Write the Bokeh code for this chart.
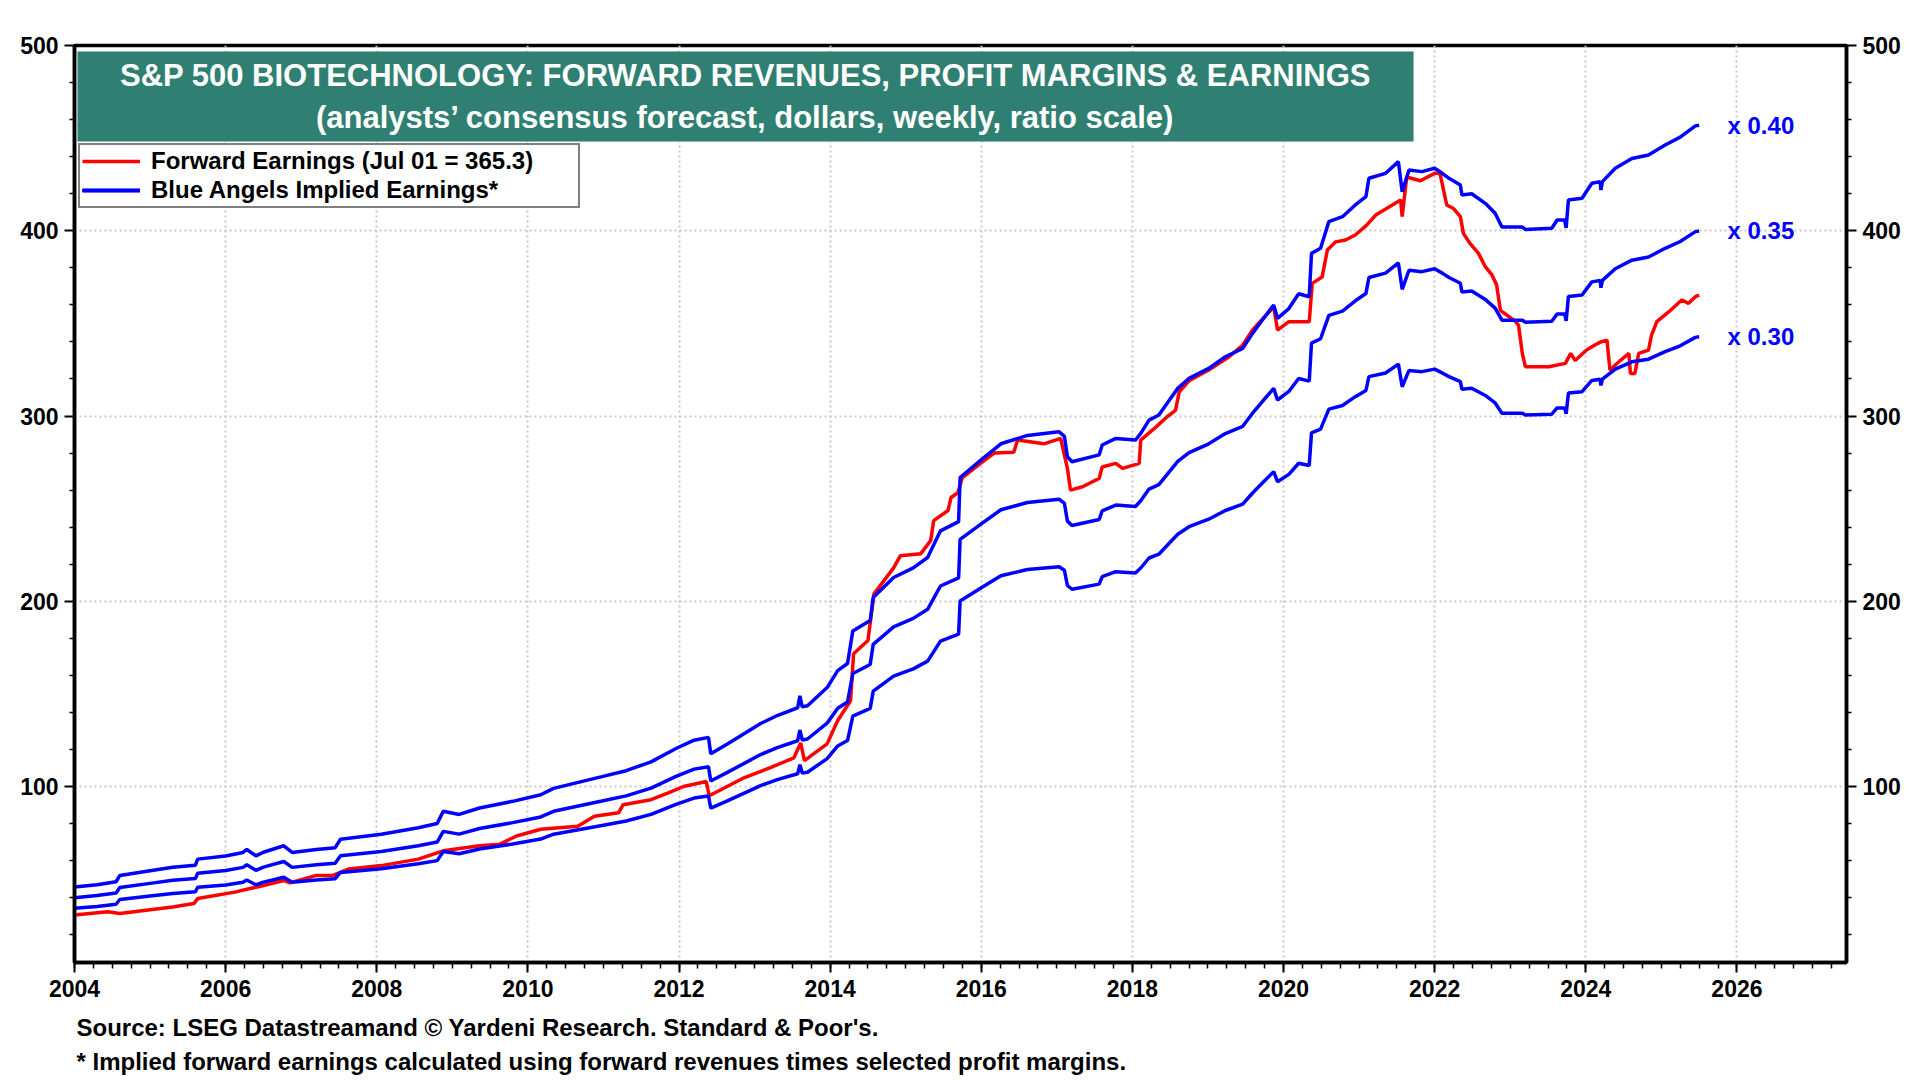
from bokeh.plotting import figure
from bokeh.models import (Range1d, FixedTicker, LinearAxis, Label, BoxAnnotation,
                          Legend, LegendItem, ColumnDataSource, Title)
from bokeh.core.properties import value
from bokeh.embed import file_html
from bokeh.resources import INLINE

# ---------------- data ----------------
title_line1 = "S&P 500 BIOTECHNOLOGY: FORWARD REVENUES, PROFIT MARGINS & EARNINGS"
title_line2 = "(analysts\u2019 consensus forecast, dollars, weekly, ratio scale)"
legend_red = "Forward Earnings (Jul 01 = 365.3)"
legend_blue = "Blue Angels Implied Earnings*"
note_source = "Source: LSEG Datastreamand \u00a9 Yardeni Research. Standard & Poor's."
note_implied = "* Implied forward earnings calculated using forward revenues times selected profit margins."

x_tick_years = list(range(2004, 2027, 2))
y_tick_values = [100, 200, 300, 400, 500]

profit_margins = [0.40, 0.35, 0.30]

# forward revenues (dollars per share), weekly samples at key points
rev_dates = [2004.00, 2004.30, 2004.55, 2004.60, 2005.00, 2005.30, 2005.60, 2005.63, 2006.00, 2006.23,
             2006.28, 2006.40, 2006.50, 2006.77, 2006.88, 2007.20, 2007.45, 2007.52, 2008.06, 2008.55,
             2008.80, 2008.88, 2009.09, 2009.36, 2009.80, 2010.17, 2010.34, 2010.98, 2011.30, 2011.63,
             2011.96, 2012.20, 2012.39, 2012.42, 2012.64, 2013.08, 2013.30, 2013.57, 2013.60, 2013.63,
             2013.70, 2013.96, 2014.10, 2014.23, 2014.30, 2014.53, 2014.57, 2014.84, 2015.10, 2015.29,
             2015.46, 2015.70, 2015.72, 2015.99, 2016.26, 2016.61, 2017.03, 2017.10, 2017.14, 2017.20,
             2017.56, 2017.60, 2017.78, 2018.04, 2018.11, 2018.22, 2018.35, 2018.49, 2018.60, 2018.75,
             2019.01, 2019.23, 2019.46, 2019.59, 2019.72, 2019.87, 2019.92, 2020.07, 2020.20, 2020.34,
             2020.37, 2020.49, 2020.60, 2020.78, 2020.95, 2021.09, 2021.13, 2021.35, 2021.52, 2021.57,
             2021.66, 2021.83, 2022.00, 2022.10, 2022.19, 2022.34, 2022.36, 2022.49, 2022.67, 2022.80,
             2022.89, 2023.16, 2023.20, 2023.55, 2023.62, 2023.72, 2023.74, 2023.77, 2023.95, 2024.08,
             2024.19, 2024.20, 2024.22, 2024.39, 2024.61, 2024.83, 2025.05, 2025.25, 2025.45, 2025.50]
fwd_revenues = [114.3, 117.5, 121.5, 130.0, 136.3, 141.0, 143.8, 152.0, 156.3, 161.0,
                165.0, 156.5, 161.3, 170.0, 161.0, 165.0, 167.5, 178.8, 185.5, 194.3,
                200.0, 216.5, 212.3, 221.0, 230.0, 238.8, 247.5, 263.3, 271.3, 283.3,
                301.3, 312.5, 316.3, 294.3, 307.5, 335.0, 345.8, 356.3, 372.5, 357.5,
                359.0, 383.5, 406.3, 416.0, 460.0, 474.0, 505.0, 532.0, 545.0, 559.0,
                595.0, 607.5, 667.0, 690.0, 712.5, 723.8, 728.8, 722.5, 695.0, 688.3,
                697.5, 710.8, 719.8, 717.5, 726.5, 744.5, 751.3, 771.5, 787.3, 800.8,
                814.3, 830.0, 841.3, 861.5, 879.5, 899.8, 881.8, 895.0, 915.0, 911.0,
                969.5, 976.3, 1012.3, 1019.0, 1034.8, 1046.0, 1070.8, 1077.5, 1093.3, 1052.5,
                1082.0, 1079.8, 1084.3, 1077.5, 1070.8, 1061.8, 1048.3, 1050.0, 1037.0, 1023.5,
                1005.0, 1005.0, 1001.8, 1003.3, 1014.5, 1014.5, 1003.8, 1041.5, 1043.8, 1064.0,
                1066.3, 1055.0, 1066.3, 1084.3, 1097.5, 1102.3, 1115.8, 1126.3, 1141.5, 1142.5]

# forward earnings (dollars per share)
earn_dates = [2004.00, 2004.44, 2004.60, 2005.00, 2005.30, 2005.58, 2005.63, 2006.12, 2006.50, 2006.77,
              2006.85, 2007.20, 2007.42, 2007.63, 2008.06, 2008.55, 2008.88, 2009.36, 2009.63, 2009.85,
              2010.17, 2010.66, 2010.88, 2011.20, 2011.26, 2011.63, 2011.85, 2012.06, 2012.36, 2012.40,
              2012.86, 2013.20, 2013.52, 2013.61, 2013.66, 2013.96, 2014.10, 2014.27, 2014.31, 2014.50,
              2014.58, 2014.84, 2014.93, 2015.20, 2015.33, 2015.37, 2015.56, 2015.60, 2015.69, 2015.75,
              2015.99, 2016.17, 2016.43, 2016.48, 2016.83, 2017.05, 2017.14, 2017.18, 2017.34, 2017.56,
              2017.60, 2017.78, 2017.87, 2018.09, 2018.11, 2018.31, 2018.46, 2018.57, 2018.62, 2018.75,
              2019.01, 2019.28, 2019.46, 2019.59, 2019.87, 2019.92, 2020.07, 2020.34, 2020.38, 2020.51,
              2020.58, 2020.69, 2020.82, 2020.95, 2021.10, 2021.22, 2021.44, 2021.55, 2021.57, 2021.63,
              2021.81, 2022.00, 2022.07, 2022.16, 2022.25, 2022.34, 2022.38, 2022.47, 2022.58, 2022.67,
              2022.76, 2022.82, 2022.87, 2023.07, 2023.11, 2023.16, 2023.20, 2023.51, 2023.73, 2023.80,
              2023.86, 2024.01, 2024.12, 2024.20, 2024.28, 2024.32, 2024.43, 2024.57, 2024.59, 2024.65,
              2024.70, 2024.83, 2024.87, 2024.94, 2025.10, 2025.27, 2025.36, 2025.45, 2025.50]
fwd_earnings = [30.6, 32.4, 31.5, 33.5, 35.0, 36.8, 39.5, 43.0, 46.6, 49.3,
                48.0, 52.0, 52.0, 55.5, 57.3, 60.8, 65.3, 68.0, 68.9, 73.3,
                76.9, 78.6, 84.0, 85.8, 90.2, 92.9, 96.4, 100.0, 102.7, 95.0,
                104.7, 110.0, 115.5, 123.5, 114.0, 123.0, 135.6, 146.3, 171.7, 178.8,
                204.0, 218.0, 224.6, 225.7, 232.7, 243.5, 249.0, 256.0, 258.6, 266.8,
                274.4, 280.0, 280.4, 287.0, 285.0, 287.9, 271.7, 260.0, 261.8, 266.3,
                272.5, 274.4, 271.7, 274.4, 287.0, 294.0, 299.6, 303.0, 313.0, 319.0,
                324.8, 332.0, 338.3, 346.4, 359.0, 346.4, 350.9, 350.9, 371.6, 375.0,
                389.6, 394.0, 395.0, 397.7, 403.0, 408.5, 413.9, 416.6, 407.6, 429.0,
                427.0, 431.0, 431.0, 413.9, 412.0, 407.6, 398.6, 393.0, 387.8, 380.6,
                376.0, 370.7, 357.0, 351.0, 349.0, 333.8, 326.6, 326.6, 328.4, 333.8,
                330.0, 335.6, 338.3, 340.0, 341.0, 324.8, 329.0, 333.8, 323.0, 323.0,
                333.8, 335.6, 343.7, 350.9, 356.3, 362.6, 360.8, 364.4, 365.3]

# ---------------- layout helpers ----------------
XS, XE = 2004.0, 2027.45
YS, YE = 5.0, 500.0
FRAME_L, FRAME_T, FRAME_W, FRAME_H = 74, 45, 1772, 917   # canvas pixels


def dx(px):
    return XS + (px - FRAME_L) / FRAME_W * (XE - XS)


def dy(py):
    return YE - (py - FRAME_T) / FRAME_H * (YE - YS)


FONT = "Liberation Sans"
RED = "#ff0000"
BLUE = "#0000ff"
TEAL = "#2f7f72"
LW = 3.5

p = figure(frame_width=FRAME_W, frame_height=FRAME_H, output_backend="svg", toolbar_location=None,
           x_range=Range1d(XS, XE), y_range=Range1d(YS, YE), title=None,
           min_border_left=FRAME_L, min_border_right=58,
           min_border_top=FRAME_T, min_border_bottom=116,
           background_fill_color="white", border_fill_color="white")

p.outline_line_color = "black"
p.outline_line_width = 3.5

# grid
p.xgrid.ticker = FixedTicker(ticks=x_tick_years)
p.ygrid.ticker = FixedTicker(ticks=y_tick_values)
for g in (p.xgrid[0], p.ygrid[0]):
    g.grid_line_color = "#c8c8c8"
    g.grid_line_width = 2
    g.grid_line_dash = "2 3"

# axes
x_minor = [XS + 0.25 * i for i in range(int((XE - XS) / 0.25) + 1)]
y_minor = [v for v in range(20, 500, 20) if v % 100 != 0]
p.xaxis.ticker = FixedTicker(ticks=x_tick_years, minor_ticks=x_minor)
p.yaxis.ticker = FixedTicker(ticks=y_tick_values, minor_ticks=y_minor)
right_axis = LinearAxis(ticker=FixedTicker(ticks=y_tick_values, minor_ticks=y_minor))
p.add_layout(right_axis, "right")

for ax in (p.xaxis[0], p.yaxis[0], right_axis):
    ax.axis_line_color = "black"
    ax.axis_line_width = 3.5
    ax.major_tick_line_color = "black"
    ax.major_tick_line_width = 2
    ax.minor_tick_line_color = "black"
    ax.minor_tick_line_width = 1.5
    ax.major_tick_in = 0
    ax.minor_tick_in = 0
    ax.major_label_text_font = FONT
    ax.major_label_text_font_style = "bold"
    ax.major_label_text_font_size = "23px"
    ax.major_label_text_color = "black"
for ax in (p.yaxis[0], right_axis):
    ax.major_tick_out = 10
    ax.minor_tick_out = 5
    ax.major_label_standoff = 6
p.xaxis[0].major_tick_out = 10
p.xaxis[0].minor_tick_out = 6
p.xaxis[0].major_label_standoff = 7

# series
red_r = p.line(earn_dates, fwd_earnings, line_color=RED, line_width=LW)
blue_rs = []
for m in profit_margins:
    implied = [r * m for r in fwd_revenues]
    blue_rs.append(p.line(rev_dates, implied, line_color=BLUE, line_width=LW))

# margin labels at the end of each blue line
lab_src = ColumnDataSource(dict(
    x=[dx(1727)] * len(profit_margins),
    y=[fwd_revenues[-1] * m for m in profit_margins],
    t=["x %.2f" % m for m in profit_margins]))
p.text(x="x", y="y", text="t", source=lab_src, text_color=BLUE,
       text_font=value(FONT), text_font_style="bold", text_font_size="24px",
       text_align="left", text_baseline="middle")

# title box
p.add_layout(BoxAnnotation(left=dx(77), right=dx(1413), top=dy(51), bottom=dy(141),
                           fill_color=TEAL, fill_alpha=1.0, line_color="#8fb5ae", line_width=1))
for txt, py in ((title_line1, 75), (title_line2, 117)):
    p.add_layout(Label(x=dx(745), y=dy(py), text=txt, text_align="center", text_baseline="middle",
                       text_color="white", text_font=FONT, text_font_style="bold",
                       text_font_size="31px"))

# legend
leg = Legend(items=[LegendItem(label=legend_red, renderers=[red_r]),
                    LegendItem(label=legend_blue, renderers=blue_rs)],
             location=(4, FRAME_H - 102 - 61), margin=0, padding=2, spacing=1,
             glyph_width=58, glyph_height=22, label_height=22, label_width=425,
             label_standoff=11, border_line_color="black", border_line_width=2.5,
             background_fill_color="white", background_fill_alpha=1.0,
             label_text_font=FONT, label_text_font_style="bold", label_text_font_size="24px",
             label_text_color="black")
p.add_layout(leg)

# footnotes (below the x axis)
for txt, so in ((note_source, 26.5), (note_implied, -17.5)):
    p.add_layout(Title(text=txt, align="left", vertical_align="middle", offset=2, standoff=so,
                       text_font=FONT, text_font_style="bold", text_font_size="24px",
                       text_color="black"), "below")

open("out.html", "w").write(file_html(p, INLINE))
